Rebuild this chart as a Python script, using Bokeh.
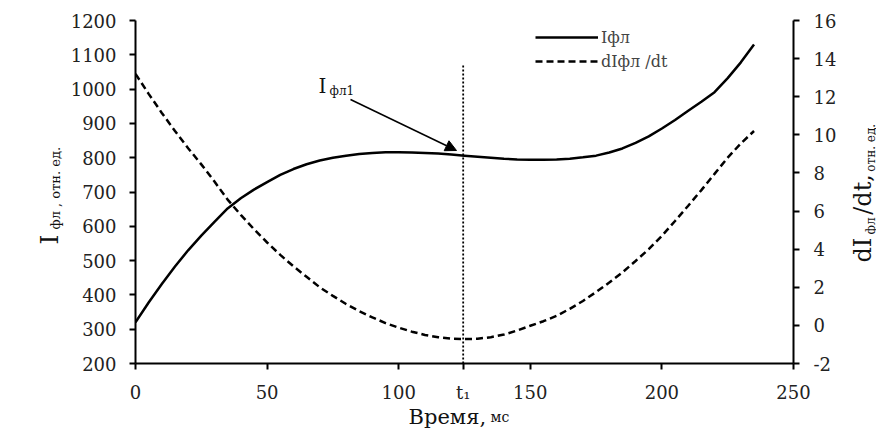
import math
from bokeh.plotting import figure
from bokeh.models import (Range1d, LinearAxis, Legend, Label, Arrow, NormalHead,
                          FixedTicker)
from bokeh.embed import file_html
from bokeh.resources import INLINE

# ---- data ----
t = [0, 5, 10, 15, 20, 25, 30, 35, 40, 45, 50, 55, 60, 65, 70, 75, 80, 85, 90,
     95, 100, 105, 110, 115, 120, 125, 130, 135, 140, 145, 150, 155, 160, 165,
     170, 175, 180, 185, 190, 195, 200, 205, 210, 215, 220, 225, 230, 235]
I_fl = [320, 378, 432, 483, 530, 573, 613, 652, 682, 707, 729, 750, 767, 781,
        792, 800, 806, 811, 814, 816, 816, 815, 814, 812, 809, 806, 803, 800,
        797, 795, 794, 794, 795, 797, 801, 806, 815, 827, 843, 862, 885, 910,
        937, 963, 991, 1032, 1078, 1130]
dI_dt = [13.2, 12.15, 11.15, 10.2, 9.3, 8.45, 7.55, 6.6, 5.8, 5.05, 4.35, 3.7,
         3.1, 2.55, 2.0, 1.55, 1.12, 0.75, 0.42, 0.12, -0.12, -0.33, -0.5,
         -0.62, -0.69, -0.72, -0.7, -0.62, -0.48, -0.27, -0.02, 0.22, 0.5,
         0.87, 1.28, 1.75, 2.25, 2.78, 3.38, 4.0, 4.7, 5.48, 6.28, 7.1, 7.95,
         8.8, 9.55, 10.2]
t1 = 124.5
t1_line_y = [200, 1070]
x_ticks = [0, 50, 100, 150, 200, 250]
left_ticks = list(range(200, 1201, 100))
right_ticks = list(range(-2, 17, 2))

FONT = "DejaVu Serif"
NB = "\u00a0"  # non-breaking space (not collapsed in SVG text)

p = figure(width=876, height=429, output_backend="svg", toolbar_location=None,
           x_range=Range1d(0, 250), y_range=Range1d(200, 1200),
           min_border_left=135, min_border_right=83, min_border_top=20,
           min_border_bottom=66)
p.outline_line_color = None
p.xgrid.visible = False
p.ygrid.visible = False
p.extra_y_ranges = {"d": Range1d(-2, 16)}

def style_axis(ax, standoff):
    ax.axis_line_width = 2
    ax.axis_line_color = "black"
    ax.major_tick_line_width = 2
    ax.major_tick_line_color = "black"
    ax.major_tick_out = 6
    ax.major_tick_in = 0
    ax.minor_tick_line_color = None
    ax.major_label_text_font = FONT
    ax.major_label_text_font_size = "18px"
    ax.major_label_text_color = "#222222"
    ax.major_label_standoff = standoff

style_axis(p.xaxis[0], 12)
p.xaxis[0].ticker = FixedTicker(ticks=x_ticks + [t1])
p.xaxis[0].major_label_overrides = {t1: "t₁"}
style_axis(p.yaxis[0], 13)
p.yaxis[0].ticker = FixedTicker(ticks=left_ticks)

ax_r = LinearAxis(y_range_name="d", ticker=FixedTicker(ticks=right_ticks))
style_axis(ax_r, 14)
ax_r.major_label_overrides = {-2: "-2"}
p.add_layout(ax_r, "right")

r1 = p.line(t, I_fl, line_color="black", line_width=2.5)
r2 = p.line(t, dI_dt, y_range_name="d", line_color="black", line_width=2.5,
            line_dash="7 4")
p.line([t1, t1], t1_line_y, line_color="black", line_width=1.8, line_dash="2 2")

legend = Legend(items=[("Iфл", [r1]), ("dIфл /dt", [r2])], location=(400, 292),
                glyph_width=63, glyph_height=20, spacing=4, padding=0, margin=0,
                label_standoff=3, border_line_color=None,
                background_fill_alpha=0, label_text_font=FONT,
                label_text_font_size="16px")
p.add_layout(legend, "center")

def px2x(px):
    return (px - 135) / 2.632

def py2y(py):
    return 1200 - (py - 20) * 2.9155

def lab(text, px, py, size, angle=0.0, place="center", baseline="alphabetic"):
    p.add_layout(Label(x=px2x(px), y=py2y(py), text=text, angle=angle,
                       text_font=FONT, text_font_size=size, text_color="#111111",
                       text_align="left", text_baseline=baseline), place)

# annotation inside the plot
lab("I", 318, 85, "20px")
lab("фл1", 329, 90, "12px")
p.add_layout(Arrow(end=NormalHead(size=11, fill_color="black", line_color="black"),
                   x_start=px2x(350), y_start=py2y(99),
                   x_end=px2x(456), y_end=py2y(150),
                   line_color="black", line_width=1.5))

# titles outside the frame: side-panel labels (not clipped), positioned in data units
A = math.pi / 2
lab("Время,", 408, 416, "21px", place="below")
lab("мс", 490, 416, "14px", place="above")

lab("I", 49, 244, "25px", angle=A, place="left", baseline="middle")
lab("фл , отн. ед.", 55, 229, "13px", angle=A, place="left", baseline="middle")

lab("dI" + NB * 3 + "/dt,", 862, 262, "24px", angle=A, place="right",
    baseline="middle")
lab("фл" + NB * 12 + "отн. ед.", 870, 234, "12px", angle=A, place="left",
    baseline="middle")

open("out.html", "w").write(file_html(p, INLINE))
